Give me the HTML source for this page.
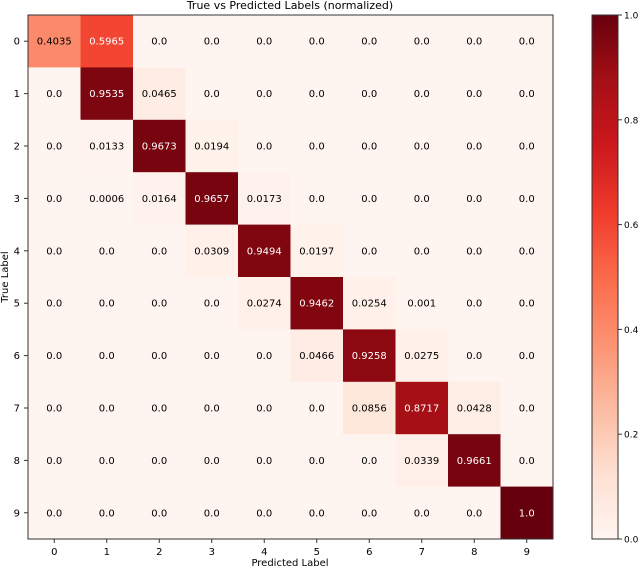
<!DOCTYPE html>
<html><head><meta charset="utf-8"><style>
body{margin:0;background:#fff;}
svg text{font-family:"DejaVu Sans","Liberation Sans",sans-serif;}
</style></head><body>
<svg id="c" width="640" height="570" xmlns="http://www.w3.org/2000/svg">
<defs><linearGradient id="g" x1="0" y1="1" x2="0" y2="0">
<stop offset="0" stop-color="#fff5f0"/><stop offset="0.125" stop-color="#fee0d2"/><stop offset="0.25" stop-color="#fcbba1"/><stop offset="0.375" stop-color="#fc9272"/><stop offset="0.5" stop-color="#fb6a4a"/><stop offset="0.625" stop-color="#ef3b2c"/><stop offset="0.75" stop-color="#cb181d"/><stop offset="0.875" stop-color="#a50f15"/><stop offset="1" stop-color="#67000d"/>
</linearGradient></defs>
<text x="290" y="9" font-size="11" text-anchor="middle">True vs Predicted Labels (normalized)</text>
<g id="cells"></g>
<rect x="28" y="15" width="525" height="524" fill="none" stroke="#333" stroke-width="1"/>
<g id="axes"></g>
<text x="290" y="566" font-size="10" text-anchor="middle">Predicted Label</text>
<text x="8" y="277" font-size="10" text-anchor="middle" transform="rotate(-90 8 277)">True Label</text>
<rect x="592" y="15" width="26" height="524" fill="url(#g)" stroke="#333" stroke-width="1"/>
<g id="cb"></g>
</svg>
<script>
const labels=["0","1","2","3","4","5","6","7","8","9"];
const row0=[0.4035,0.5965,0,0,0,0,0,0,0,0];
const row1=[0,0.9535,0.0465,0,0,0,0,0,0,0];
const row2=[0,0.0133,0.9673,0.0194,0,0,0,0,0,0];
const row3=[0,0.0006,0.0164,0.9657,0.0173,0,0,0,0,0];
const row4=[0,0,0,0.0309,0.9494,0.0197,0,0,0,0];
const row5=[0,0,0,0,0.0274,0.9462,0.0254,0.001,0,0];
const row6=[0,0,0,0,0,0.0466,0.9258,0.0275,0,0];
const row7=[0,0,0,0,0,0,0.0856,0.8717,0.0428,0];
const row8=[0,0,0,0,0,0,0,0.0339,0.9661,0];
const row9=[0,0,0,0,0,0,0,0,0,1.0];
const matrix=[row0,row1,row2,row3,row4,row5,row6,row7,row8,row9];
const cbTicks=[0,0.2,0.4,0.6,0.8,1.0];
const L=28,T=15,W=525,H=524,n=labels.length;
const cw=W/n,ch=H/n;
const xS=i=>L+i*cw, yS=j=>T+j*ch;
const stops=[[255,245,240],[254,224,210],[252,187,161],[252,146,114],[251,106,74],[239,59,44],[203,24,29],[165,15,21],[103,0,13]];
function color(v){v=Math.max(0,Math.min(1,v));const p=v*8,i=Math.min(7,Math.floor(p)),f=p-i;const a=stops[i],b=stops[i+1];return `rgb(${a.map((c,k)=>Math.round(c+(b[k]-c)*f)).join(',')})`;}
function fmt(v){return v===0?"0.0":(v===1?"1.0":String(v));}
const NS="http://www.w3.org/2000/svg";
const cells=document.getElementById('cells'),axes=document.getElementById('axes'),cb=document.getElementById('cb');
function mk(tag,at,parent){const e=document.createElementNS(NS,tag);for(const k in at)e.setAttribute(k,at[k]);parent.appendChild(e);return e;}
matrix.forEach((row,j)=>row.forEach((v,i)=>{
 const r=mk('rect',{x:xS(i),y:yS(j),width:cw+0.5,height:ch+0.5,fill:color(v)},cells);
 
 
 const t=mk('text',{x:xS(i)+cw/2,y:yS(j)+ch/2+3.5,'font-size':10,'text-anchor':'middle',fill:v>0.5?'#fff':'#000'},cells);
 t.textContent=fmt(v);
 
 
}));
labels.forEach((lb,i)=>{
 mk('line',{x1:xS(i)+cw/2,x2:xS(i)+cw/2,y1:T+H,y2:T+H+4,stroke:'#333'},axes);
 const t=mk('text',{x:xS(i)+cw/2,y:T+H+16,'font-size':10,'text-anchor':'middle'},axes);
 t.textContent=lb;
 
 
 mk('line',{x1:L-4,x2:L,y1:yS(i)+ch/2,y2:yS(i)+ch/2,stroke:'#333'},axes);
 const u=mk('text',{x:L-8,y:yS(i)+ch/2+3.5,'font-size':10,'text-anchor':'end'},axes);
 u.textContent=lb;
 
 
});
cbTicks.forEach(v=>{
 const y=T+H-v*H;
 mk('line',{x1:618,x2:622,y1:y,y2:y,stroke:'#333'},cb);
 const t=mk('text',{x:624,y:y+3.5,'font-size':9},cb);
 t.textContent=v.toFixed(1);
 
 
});
</script>
</body></html>
